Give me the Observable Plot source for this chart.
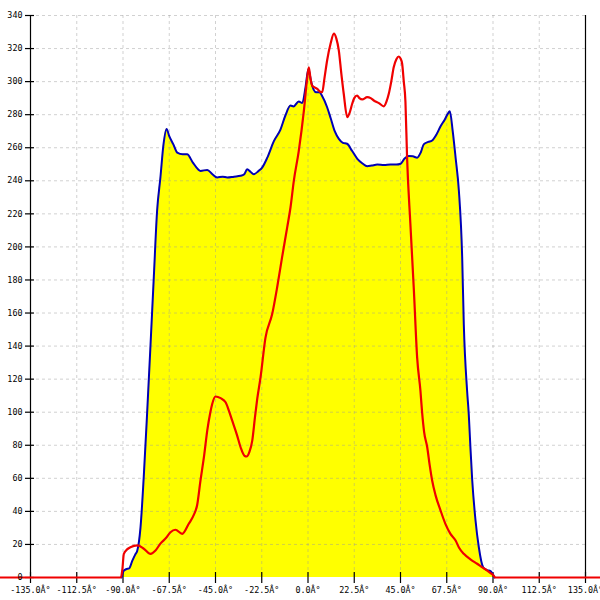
<!DOCTYPE html>
<html>
<head>
<meta charset="utf-8">
<script src="https://cdn.jsdelivr.net/npm/d3@7"></script>
<script src="https://cdn.jsdelivr.net/npm/@observablehq/plot@0.6"></script>
<style>
  html, body { margin: 0; padding: 0; background: #fff; overflow: hidden; }
  #chart svg { overflow: hidden; display: block; }
</style>
</head>
<body>
<div id="chart"></div>
<script>
// Tick positions and labels
const xTicks = [-135, -112.5, -90, -67.5, -45, -22.5, 0, 22.5, 45, 67.5, 90, 112.5, 135];
const xTickLabels = ["-135.0Â°", "-112.5Â°", "-90.0Â°", "-67.5Â°", "-45.0Â°", "-22.5Â°", "0.0Â°", "22.5Â°", "45.0Â°", "67.5Â°", "90.0Â°", "112.5Â°", "135.0Â°"];
const yTicks = [0, 20, 40, 60, 80, 100, 120, 140, 160, 180, 200, 220, 240, 260, 280, 300, 320, 340];

// Blue series (filled yellow beneath)
const blueAngle = [-90.7, -89.7, -88.5, -87, -85.5, -84, -83.1, -81.5, -79.9, -78.2, -76.6, -75, -73.4, -71.8, -70.3, -68.8, -67.5, -65.5, -63.6, -61, -58.8, -56, -53.5, -52.3, -49, -46.5, -44.2, -41.5, -39.3, -36, -32.8, -31, -29.6, -28, -26.4, -24, -22.3, -19.8, -16.6, -13.4, -11, -8.5, -7, -4.5, -2.8, -1.2, 0.2, 1.5, 2.8, 4, 5.5, 7, 9.3, 11, 13, 15, 17, 19, 21.5, 24, 26.5, 28.8, 31, 33.7, 37, 40.1, 43, 45, 47, 49, 51, 53.1, 54.8, 56.3, 58.5, 60.4, 62.5, 64.5, 66.5, 68, 69, 70.4, 71.8, 73.4, 75, 75.8, 77.4, 78.2, 79, 79.9, 81.5, 83.1, 85.2, 87, 88.8, 90.7];
const blueValue = [0, 4, 5, 5.5, 10, 14, 16, 30, 61, 101, 141, 182, 222, 242, 262, 271.4, 267, 262, 257, 256, 256, 251, 247, 246, 246.6, 244, 242, 242.5, 242, 242.5, 243, 244, 247, 245.5, 244, 246, 248, 254, 264, 271, 279.5, 285.5, 285, 288, 287, 296.6, 307.7, 300, 295, 293.5, 293.5, 291, 284.5, 278, 270, 265.4, 263, 262.4, 258, 253.3, 250.5, 248.8, 249.2, 249.8, 249.5, 249.8, 249.8, 250.3, 253.5, 255, 254.8, 254, 257, 262, 263.5, 264.4, 268, 273, 277, 280.5, 282, 270, 254, 234, 194, 153, 113, 99, 79, 58.7, 34.5, 18.3, 6.2, 4.5, 3.8, 0];

// Red series
const redAngle = [-150, -91, -90.3, -89.6, -88, -86.4, -83, -79.9, -76.6, -74.2, -71.8, -69, -66.9, -64.5, -61.2, -58, -55.5, -53.9, -52.3, -50.5, -49, -47.5, -46.6, -45, -42.5, -40.1, -38.5, -36.9, -34.5, -32.8, -30.8, -29.9, -28.5, -27.1, -25.8, -24.7, -23.1, -20.7, -17.4, -15, -12.6, -10.1, -8.5, -6.9, -4.5, -2, -0.4, 0.4, 1.2, 2, 3.2, 4.5, 6, 6.9, 8, 9.3, 11, 12.6, 13.8, 15, 16.2, 17.4, 19.1, 20.2, 21.5, 22.5, 23.9, 25, 26.4, 28.8, 30.5, 32, 34.5, 36.9, 38.2, 39.3, 40.5, 41.7, 43, 44.2, 45, 45.8, 46.6, 47.4, 48.2, 49.8, 51.5, 53.1, 54.7, 55.5, 56.5, 58, 59.2, 60.4, 62, 64.5, 67, 69.3, 71.8, 73.5, 75.8, 79, 82.3, 85, 87.2, 89, 90.4, 91, 150];
const redValue = [0, 0, 5, 14.3, 17, 18.3, 19.4, 17.4, 14.3, 16.3, 20.5, 24, 27.4, 28.9, 26.4, 32.5, 38, 44, 58.7, 74, 89, 100, 105, 109.5, 108.5, 106, 101, 95, 86, 78.8, 73.5, 73.2, 76, 83, 97, 108, 121, 145, 159.5, 175.6, 193.8, 212, 224, 240, 258, 282.5, 302, 308.7, 302, 297.6, 296.5, 295.6, 293.8, 293.6, 302, 312.8, 323, 329, 326, 318.8, 305, 292.5, 278.5, 281, 286.6, 290, 291.6, 290, 289.2, 290.6, 290, 288.6, 287, 285, 288, 292.6, 300, 308.7, 313.5, 315.2, 314, 310.8, 300, 288, 254, 214, 174, 133, 113, 100, 88, 78.8, 68, 58.7, 50, 40.5, 32, 26.4, 22.4, 18, 14.3, 11, 8.3, 6, 4.2, 2.5, 1, 0, 0];

const blue = blueAngle.map((a, i) => ({a, v: blueValue[i]}));
const red = redAngle.map((a, i) => ({a, v: redValue[i]}));
const xLabels = xTicks.map((t, i) => ({t, label: xTickLabels[i]}));

const font = "'DejaVu Sans Mono', monospace";

const chart = Plot.plot({
  width: 600,
  height: 600,
  marginLeft: 30,
  marginRight: 15,
  marginTop: 15,
  marginBottom: 23,
  style: {background: "#fff", fontFamily: font, fontSize: "8.4px", color: "#000"},
  x: {domain: [-135, 135], axis: null},
  y: {domain: [0, 340], axis: null},
  marks: [
    Plot.areaY(blue, {x: "a", y: "v", fill: "#ffff00", curve: "monotone-x"}),
    // grid
    Plot.ruleX(xTicks.slice(1, -1), {stroke: "#9a9a9a", strokeOpacity: 0.45, strokeDasharray: "3,3"}),
    Plot.ruleY(yTicks.slice(1), {stroke: "#9a9a9a", strokeOpacity: 0.45, strokeDasharray: "3,3"}),
    // frame verticals
    Plot.ruleX([xTicks[0], xTicks[xTicks.length - 1]], {stroke: "#000", strokeWidth: 1.2}),
    // y ticks crossing the left axis
    Plot.ruleY(yTicks, {x1: xTicks[0], x2: xTicks[0], insetLeft: -5, insetRight: -4, stroke: "#000", strokeWidth: 1.2}),
    // x ticks crossing the bottom axis
    Plot.ruleX(xTicks, {y1: 0, y2: 0, insetTop: -5, insetBottom: -6, stroke: "#000", strokeWidth: 1.2}),
    // series
    Plot.lineY(blue, {x: "a", y: "v", stroke: "#0000b8", strokeWidth: 2, curve: "monotone-x"}),
    Plot.lineY(red, {x: "a", y: "v", stroke: "#f00000", strokeWidth: 2.2, curve: "monotone-x"}),
    // labels
    Plot.text(yTicks, {y: d => d, text: d => String(d), frameAnchor: "left", textAnchor: "end", dx: -8, fill: "#000"}),
    Plot.text(xLabels, {x: "t", text: "label", frameAnchor: "bottom", dy: 15, fill: "#000"})
  ]
});
document.getElementById("chart").appendChild(chart);
</script>
</body>
</html>
